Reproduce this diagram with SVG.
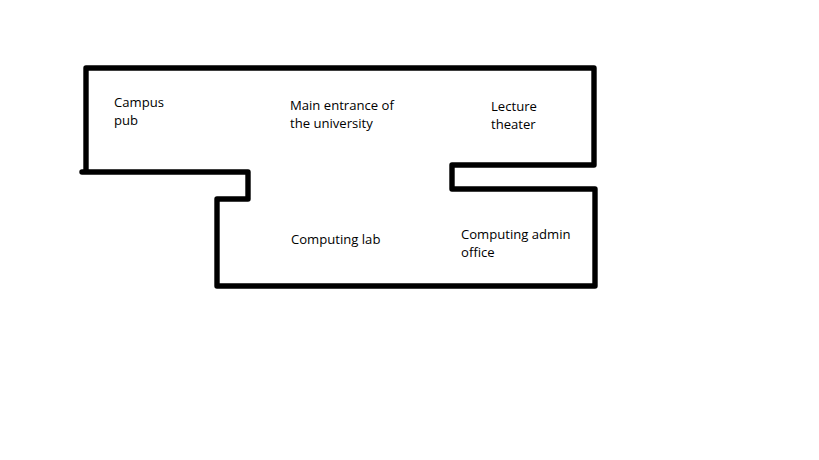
<svg xmlns="http://www.w3.org/2000/svg" width="819" height="460" viewBox="0 0 819 460">
<style>
.w{fill:none;stroke:#000;stroke-width:5.4;stroke-linecap:round;stroke-linejoin:round}
text{font-family:"Open Sans","DejaVu Sans",sans-serif;font-size:13.1px;fill:#000}
</style>
<rect width="819" height="460" fill="#fff"/>
<g id="walls">
<path class="w" d="M82 172H248V199H217V286H595V189H452V165H594V68H86V172"/>
</g>
<g id="labels">
<text x="114" y="107">Campus</text>
<text x="114" y="125">pub</text>
<text x="290" y="110">Main entrance of</text>
<text x="290" y="128">the university</text>
<text x="491" y="111">Lecture</text>
<text x="491" y="129">theater</text>
<text x="291" y="244">Computing lab</text>
<text x="461" y="239">Computing admin</text>
<text x="461" y="257">office</text>
</g>
</svg>
